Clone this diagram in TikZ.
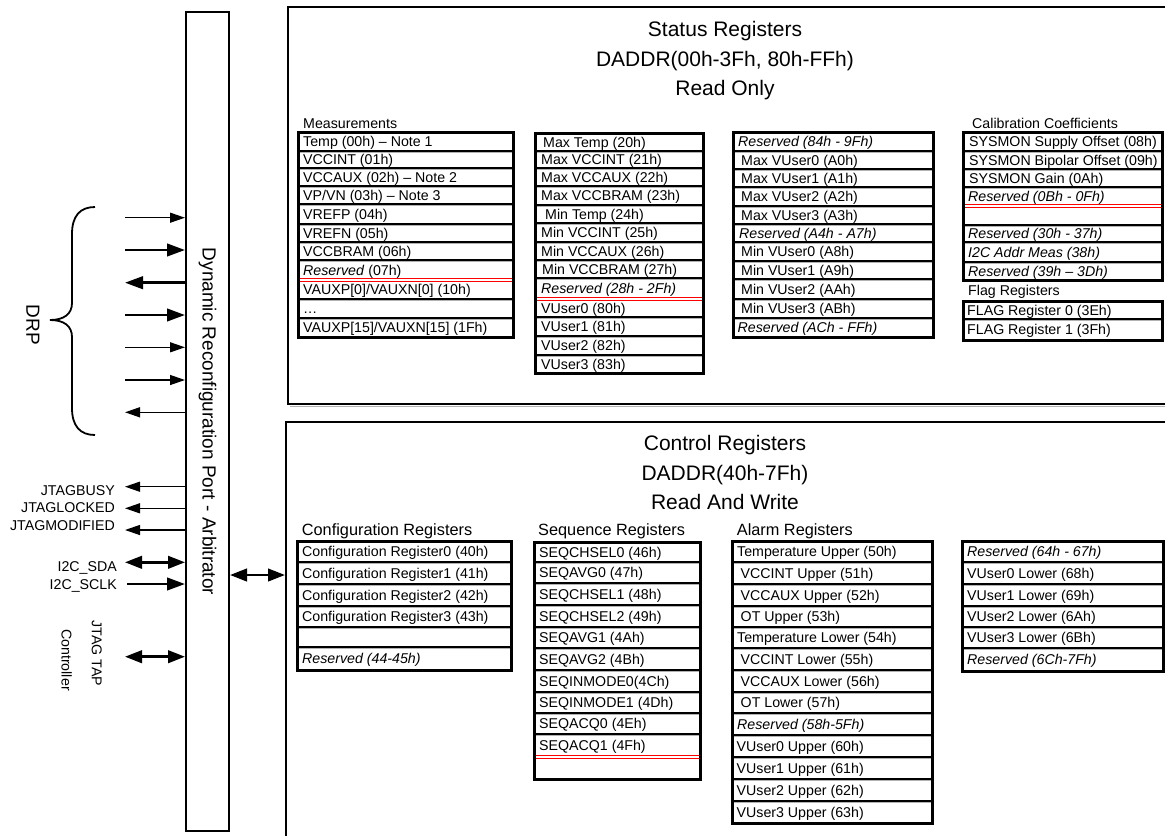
\documentclass[tikz,border=0pt]{standalone}
\usepackage{fontspec}
\setmainfont{Liberation Sans}
\usetikzlibrary{arrows.meta,calc}

\tikzset{
  regtxt/.style={anchor=base west, inner sep=0pt, font=\fontsize{14.2}{17}\selectfont},
  collbl/.style={anchor=base west, inner sep=0pt, font=\fontsize{14.2}{17}\selectfont},
  ctllbl/.style={anchor=base west, inner sep=0pt, font=\fontsize{16.3}{19}\selectfont},
  ttl/.style={anchor=base, inner sep=0pt, font=\fontsize{21}{25}\selectfont},
  bigrot/.style={rotate=-90, inner sep=0pt, font=\fontsize{19}{22}\selectfont},
  smallrot/.style={rotate=-90, inner sep=0pt, font=\fontsize{14.2}{17}\selectfont},
  regbox/.style={draw=black, line width=3pt},
  sepline/.style={draw=black, line width=2pt},
  shadeline/.style={draw=black!30, line width=1pt},
  redsep/.style={draw=red, line width=1pt, double=white, double distance=1.1pt},
  panel/.style={draw=black, line width=2.6pt},
  thinarr/.style={line width=1.3pt, -{Triangle[length=15pt,width=10pt]}},
  thickarr/.style={line width=2.6pt, -{Triangle[length=18pt,width=12.5pt]}},
  thickdbl/.style={line width=2.6pt, {Triangle[length=17pt,width=12.5pt]}-{Triangle[length=17pt,width=12.5pt]}},
  sig/.style={anchor=base east, inner sep=0pt, font=\fontsize{14.2}{17}\selectfont},
}

% #1 name, #2 xl, #3 xr, #4 top, #5 bottom, #6 rows bottom/dx/text
\newcommand\regcol[6]{%
  \foreach \yb/\dx/\txt [remember=\yb as \yt (initially #4), count=\i] in {#6}{
    \node[regtxt] (#1-\i) at ({#2+\dx},{(\yt+\yb)/2+5.1}) {\txt};
    \draw[shadeline] ({#2},{\yb+1.9}) -- ({#3},{\yb+1.9});
    \draw[sepline] ({#2},{\yb}) -- ({#3},{\yb});
  }
  \draw[regbox] ({#2},{#4}) rectangle ({#3},{#5});
}

\begin{document}
\begin{tikzpicture}[x=1pt,y=-1pt]
\useasboundingbox (0,0) rectangle (1165,836);

% panels
\draw[shadeline] (1165,406) -- (289.5,406);
\draw[panel] (1165,7) -- (288,7) -- (288,404) -- (1165,404);
\draw[panel] (1165,422) -- (286,422) -- (286,836);

% titles
\node[ttl] (st1) at (725,36.5) {Status Registers};
\node[ttl] (st2) at (725,66.5) {DADDR(00h-3Fh, 80h-FFh)};
\node[ttl] (st3) at (725,95.5) {Read Only};
\node[ttl] (ct1) at (725,450.5) {Control Registers};
\node[ttl] (ct2) at (725,480.5) {DADDR(40h-7Fh)};
\node[ttl] (ct3) at (725,509.5) {Read And Write};

% arbitrator
\node[draw, line width=2pt, minimum width=43pt, minimum height=819pt, inner sep=0pt] (arb) at (207.5,421.5) {};
\node[bigrot] (arbtxt) at (arb.center) {Dynamic Reconfiguration Port - Arbitrator};

% column labels
\node[collbl] (measlbl) at (303,128.1) {Measurements};
\node[collbl] (callbl) at (972,128.1) {Calibration Coefficients};
\node[collbl] (flaglbl) at (968,295.6) {Flag Registers};
\node[ctllbl] (cfglbl) at (301.7,535.3) {Configuration Registers};
\node[ctllbl] (seqlbl) at (538,535.3) {Sequence Registers};
\node[ctllbl] (alarmlbl) at (736.7,535.3) {Alarm Registers};

% status register columns
\regcol{meas}{298}{513}{132}{337}{
151/5/{Temp (00h) – Note 1},
168/5/{VCCINT (01h)},
186/5/{VCCAUX (02h) – Note 2},
204/5/{VP/VN (03h) – Note 3},
224/5/{VREFP (04h)},
242/5/{VREFN (05h)},
260/5/{VCCBRAM (06h)},
280/5/{\textit{Reserved} (07h)},
299/5/{VAUXP[0]/VAUXN[0] (10h)},
318/5/{…},
337/5/{VAUXP[15]/VAUXN[15] (1Fh)}}
\draw[redsep] (299.5,280) -- (511.5,280);

\regcol{mx}{535}{703}{133}{373}{
151/8/{Max Temp (20h)},
168/6/{Max VCCINT (21h)},
186/6/{Max VCCAUX (22h)},
205/6/{Max VCCBRAM (23h)},
223/10/{Min Temp (24h)},
242/6/{Min VCCINT (25h)},
260/6/{Min VCCAUX (26h)},
278/7/{Min VCCBRAM (27h)},
299/6/{\textit{Reserved (28h - 2Fh)}},
317/6/{VUser0 (80h)},
336/6/{VUser1 (81h)},
355/6/{VUser2 (82h)},
373/6/{VUser3 (83h)}}
\draw[redsep] (536.5,299) -- (701.5,299);

\regcol{vu}{733}{933}{132}{337}{
151/5/{\textit{Reserved (84h - 9Fh)}},
169/8/{Max VUser0 (A0h)},
187/8/{Max VUser1 (A1h)},
206/8/{Max VUser2 (A2h)},
224/8/{Max VUser3 (A3h)},
242/6/{\textit{Reserved (A4h - A7h)}},
261/8/{Min VUser0 (A8h)},
279/8/{Min VUser1 (A9h)},
299/8/{Min VUser2 (AAh)},
318/8/{Min VUser3 (ABh)},
337/4.5/{\textit{Reserved (ACh - FFh)}}}

\regcol{cal}{963}{1162}{132}{280}{
151/6/{SYSMON Supply Offset (08h)},
169/6/{SYSMON Bipolar Offset (09h)},
187/6/{SYSMON Gain (0Ah)},
206/5/{\textit{Reserved (0Bh - 0Fh)}},
225/5/{},
242/5/{\textit{Reserved (30h - 37h)}},
262/5/{\textit{I2C Addr Meas (38h)}},
280/5/{\textit{Reserved (39h – 3Dh)}}}
\draw[redsep] (964.5,206) -- (1160.5,206);

\regcol{flag}{963}{1162}{301}{340}{
319/4/{FLAG Register 0 (3Eh)},
340/4/{FLAG Register 1 (3Fh)}}

% control register columns
\regcol{cfg}{297}{511}{541}{670}{
562/5/{Configuration Register0 (40h)},
584/5/{Configuration Register1 (41h)},
606/5/{Configuration Register2 (42h)},
627/5/{Configuration Register3 (43h)},
647/5/{},
670/5/{\textit{Reserved (44-45h)}}}

\regcol{seq}{534}{700}{542}{779}{
562/5/{SEQCHSEL0 (46h)},
583/5/{SEQAVG0 (47h)},
605/5/{SEQCHSEL1 (48h)},
627/5/{SEQCHSEL2 (49h)},
648/5/{SEQAVG1 (4Ah)},
670/5/{SEQAVG2 (4Bh)},
692/5/{SEQINMODE0(4Ch)},
713/5/{SEQINMODE1 (4Dh)},
734/5/{SEQACQ0 (4Eh)},
757/5/{SEQACQ1 (4Fh)},
779/5/{}}
\draw[redsep] (535.5,757) -- (698.5,757);

\regcol{alarm}{732}{932}{541}{823}{
562/5/{Temperature Upper (50h)},
584/8.5/{VCCINT Upper (51h)},
606/8.5/{VCCAUX Upper (52h)},
627/8.5/{OT Upper (53h)},
648/5/{Temperature Lower (54h)},
670/8.5/{VCCINT Lower (55h)},
692/8.5/{VCCAUX Lower (56h)},
713/8.5/{OT Lower (57h)},
735/5/{\textit{Reserved (58h-5Fh)}},
757/4.5/{VUser0 Upper (60h)},
779/4.5/{VUser1 Upper (61h)},
801/4.5/{VUser2 Upper (62h)},
823/4.5/{VUser3 Upper (63h)}}

\regcol{low}{962}{1163}{541}{671}{
562/5/{\textit{Reserved (64h - 67h)}},
584/5/{VUser0 Lower (68h)},
606/5/{VUser1 Lower (69h)},
627/5/{VUser2 Lower (6Ah)},
648/5/{VUser3 Lower (6Bh)},
671/5/{\textit{Reserved (6Ch-7Fh)}}}

% DRP brace and label
\draw[line width=1.8pt] (95,207) .. controls (80,207) and (72,216) .. (72,234)
  -- (72,303) .. controls (72,314) and (64,320) .. (50,320)
  .. controls (64,320) and (72,326) .. (72,337)
  -- (72,408) .. controls (72,426) and (80,435) .. (95,435);
\node[bigrot] (drp) at (33,325) {DRP};

% DRP arrows
\coordinate (d1) at (125,217.7);
\coordinate (d2) at (125,250);
\coordinate (d3) at (125,282.7);
\coordinate (d4) at (125,315);
\coordinate (d5) at (125,347.3);
\coordinate (d6) at (125,380);
\coordinate (d7) at (125,412.3);
\draw[thinarr] (d1) -- (d1 -| arb.west);
\draw[thickarr] (d2) -- (d2 -| arb.west);
\draw[thickarr] (d3 -| arb.west) -- (d3);
\draw[thickarr] (d4) -- (d4 -| arb.west);
\draw[thinarr] (d5) -- (d5 -| arb.west);
\draw[thinarr] (d6) -- (d6 -| arb.west);
\draw[thinarr, line width=1.5pt] (d7 -| arb.west) -- (d7);

% JTAG / I2C signals
\coordinate (j1) at (125,486.7);
\coordinate (j2) at (125,508.3);
\coordinate (j3) at (125,530);
\coordinate (i1) at (125,562.3);
\coordinate (i2) at (127,584);
\coordinate (t1) at (125,656.7);
\draw[thinarr] (j1 -| arb.west) -- (j1);
\draw[thinarr] (j2 -| arb.west) -- (j2);
\draw[thinarr] (j3 -| arb.west) -- (j3);
\draw[thickdbl] (i1) -- (i1 -| arb.west);
\draw[thickarr] (i2) -- (i2 -| arb.west);
\draw[thickdbl] (t1) -- (t1 -| arb.west);

\node[sig] (lbusy) at (115,495.1) {JTAGBUSY};
\node[sig] (llock) at (115,512.1) {JTAGLOCKED};
\node[sig] (lmod) at (115,530.1) {JTAGMODIFIED};
\node[sig] (lsda) at (117,571.1) {I2C\_SDA};
\node[sig] (lsclk) at (117,589.1) {I2C\_SCLK};
\node[smallrot] (ltap1) at (96.7,653.5) {JTAG TAP};
\node[smallrot] (ltap2) at (66.7,660) {Controller};

% arbitrator to control registers
\coordinate (ctl) at (285,575);
\draw[thickdbl] (arb.east |- ctl) -- (ctl);
\end{tikzpicture}
\end{document}
